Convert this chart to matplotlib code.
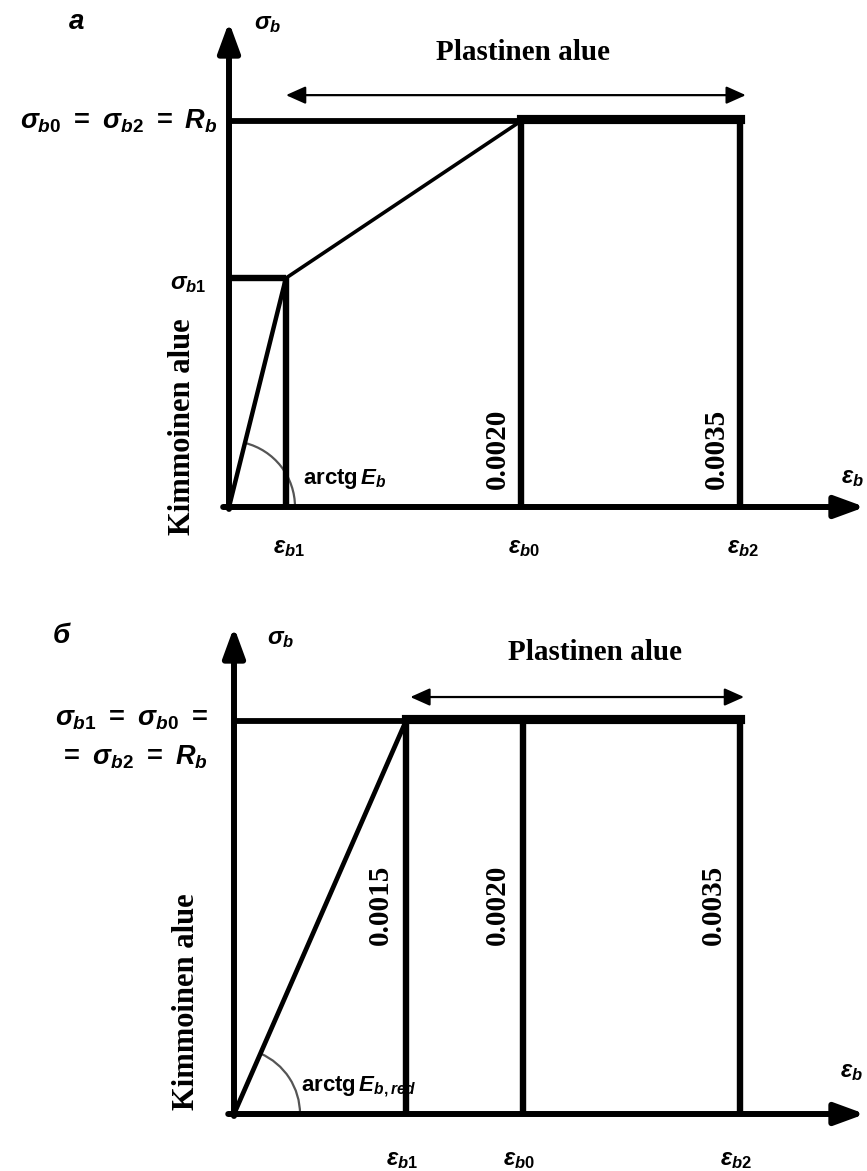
import matplotlib
matplotlib.use("Agg")
import matplotlib.pyplot as plt
from matplotlib.patches import Arc
import numpy as np

# ---------------- data ----------------
# panel a: strain positions (0, eps_b1, eps_b0, eps_b2) and stresses (relative to R_b)
eps_a = [0.0, 0.00039, 0.0020, 0.0035]
sig_a = [0.0, 0.593, 1.0, 1.0]
vlabels_a = ["0.0020", "0.0035"]
# panel b: strain positions as drawn (0, eps_b1, eps_b0, eps_b2)
eps_b = [0.0, 0.00119, 0.0020, 0.0035]
sig_b = [0.0, 1.0, 1.0, 1.0]
vlabels_b = ["0.0015", "0.0020", "0.0035"]
eps_names = [r"$\varepsilon_{b1}$", r"$\varepsilon_{b0}$", r"$\varepsilon_{b2}$"]

W, H = 867, 1171
plt.rcParams["mathtext.fontset"] = "custom"
plt.rcParams["mathtext.rm"] = "Liberation Sans:bold"
plt.rcParams["mathtext.it"] = "Liberation Sans:italic:bold"
plt.rcParams["mathtext.bf"] = "Liberation Sans:bold"
plt.rcParams["font.family"] = ["Liberation Sans", "DejaVu Sans"]

fig = plt.figure(figsize=(W / 100, H / 100), dpi=100)
SERIF = dict(family="Liberation Serif", fontweight="bold")


def T(x, y, s, **kw):
    fig.text(x / W, 1 - y / H, s, **kw)


def make_axes(band_top, band_bot, x0, y0, kx, ky):
    ax = fig.add_axes([0, 1 - band_bot / H, 1, (band_bot - band_top) / H])
    ax.set_xlim(-x0 / kx, (W - x0) / kx)
    ax.set_ylim((y0 - band_bot) / ky, (y0 - band_top) / ky)
    ax.axis("off")
    return ax


def axes_arrows(ax, xtip, ytip):
    ap = dict(arrowstyle="-|>,head_length=0.9,head_width=0.33", lw=4.3,
              color="k", shrinkA=0, shrinkB=0, mutation_scale=20)
    ax.annotate("", xy=(xtip, 0), xytext=(-0.00004, 0), arrowprops=ap)
    ax.annotate("", xy=(0, ytip), xytext=(0, -0.005), arrowprops=ap)


def plast_arrow(ax, e1, e2, s):
    ax.annotate("", xy=(e2, s), xytext=(e1, s),
                arrowprops=dict(arrowstyle="<|-|>,head_length=0.85,head_width=0.38",
                                lw=1.6, color="k", shrinkA=0, shrinkB=0,
                                mutation_scale=14))


def angle_arc(ax, e, s, r_px, kx, ky):
    ang = np.degrees(np.arctan2(s, e))
    arc = Arc((0, 0), 2 * r_px / kx, 2 * r_px / ky, theta1=0, theta2=ang,
              color="#555555", lw=1.6)
    ax.add_patch(arc)


# ---------------- panel a ----------------
kx_a, ky_a = 146000, 386
axA = make_axes(0, 590, 229, 507, kx_a, ky_a)
axes_arrows(axA, (W - 2 - 229) / kx_a, (507 - 22) / ky_a)
axA.plot(eps_a[:2], sig_a[:2], color="k", lw=3.2, solid_capstyle="butt")
axA.plot(eps_a[1:3], sig_a[1:3], color="k", lw=2.6, solid_capstyle="butt")
axA.plot([0, eps_a[1]], [sig_a[1]] * 2, color="k", lw=4.6, solid_capstyle="butt")
axA.plot([0, eps_a[2]], [sig_a[2]] * 2, color="k", lw=4.2, solid_capstyle="butt")
axA.plot([eps_a[2], eps_a[3]], [sig_a[3] + 0.004] * 2, color="k", lw=6.6,
         solid_capstyle="projecting")
for e, s in zip(eps_a[1:], sig_a[1:]):
    axA.plot([e, e], [0, s], color="k", lw=4.6, solid_capstyle="butt")
plast_arrow(axA, eps_a[1], eps_a[3] + 0.00004, 1.067)
angle_arc(axA, eps_a[1], sig_a[1], 66, kx_a, ky_a)

# ---------------- panel b ----------------
kx_b, ky_b = 144500, 393
axB = make_axes(590, H, 234, 1114, kx_b, ky_b)
axes_arrows(axB, (W - 2 - 234) / kx_b, (1114 - 627) / ky_b)
axB.plot(eps_b[:2], sig_b[:2], color="k", lw=3.4, solid_capstyle="butt")
axB.plot([0, eps_b[1]], [sig_b[1]] * 2, color="k", lw=4.2, solid_capstyle="butt")
axB.plot([eps_b[1], eps_b[3]], [sig_b[3] + 0.004] * 2, color="k", lw=6.6,
         solid_capstyle="projecting")
for e, s in zip(eps_b[1:], sig_b[1:]):
    axB.plot([e, e], [0, s], color="k", lw=4.6, solid_capstyle="butt")
plast_arrow(axB, eps_b[1] + 0.00003, eps_b[3] + 0.00003, 1.061)
angle_arc(axB, eps_b[1], sig_b[1], 66, kx_b, ky_b)

# ---------------- texts panel a ----------------
LBL = dict(fontsize=17, ha="center", va="center")
T(77, 22, "а", fontsize=20, style="italic", fontweight="bold", ha="center", va="center")
T(268, 24, r"$\sigma_b$", **LBL)
T(218, 121, r"$\sigma_{b0}\ =\ \sigma_{b2}\ =\ R_b$", fontsize=19.5, ha="right", va="center")
T(188, 284, r"$\sigma_{b1}$", **LBL)
T(523, 52, "Plastinen alue", fontsize=21, ha="center", va="center", **SERIF)
T(183, 427, "Kimmoinen alue", fontsize=22, rotation=90, ha="center", va="center", **SERIF)
T(303, 479, r"arctg$\,E_b$", fontsize=16, fontweight="bold", ha="left", va="center")
for e, lab in zip(eps_a[2:], vlabels_a):
    x = 229 + e * kx_a - 24
    T(x, 449, lab, fontsize=21, rotation=90, ha="center", va="center", **SERIF)
for e, name in zip(eps_a[1:], eps_names):
    T(229 + e * kx_a + 3, 548, name, **LBL)
T(852, 478, r"$\varepsilon_b$", **LBL)

# ---------------- texts panel b ----------------
T(61, 636, "б", fontsize=20, style="italic", fontweight="bold", ha="center", va="center")
T(281, 639, r"$\sigma_b$", **LBL)
T(208, 719, r"$\sigma_{b1}\ =\ \sigma_{b0}\ =$", fontsize=19.5, ha="right", va="center")
T(208, 757, r"$=\ \sigma_{b2}\ =\ R_b$", fontsize=19.5, ha="right", va="center")
T(595, 653, "Plastinen alue", fontsize=21, ha="center", va="center", **SERIF)
T(186, 1002, "Kimmoinen alue", fontsize=22, rotation=90, ha="center", va="center", **SERIF)
T(301, 1087, r"arctg$\,E_{b,red}$", fontsize=16, fontweight="bold", ha="left", va="center")
for e, lab in zip(eps_b[1:], vlabels_b):
    x = 234 + e * kx_b - 26
    T(x, 905, lab, fontsize=21, rotation=90, ha="center", va="center", **SERIF)
for e, name in zip(eps_b[1:], eps_names):
    T(234 + e * kx_b - 4, 1160, name, **LBL)
T(851, 1072, r"$\varepsilon_b$", **LBL)

fig.savefig("out.png", dpi=100)
